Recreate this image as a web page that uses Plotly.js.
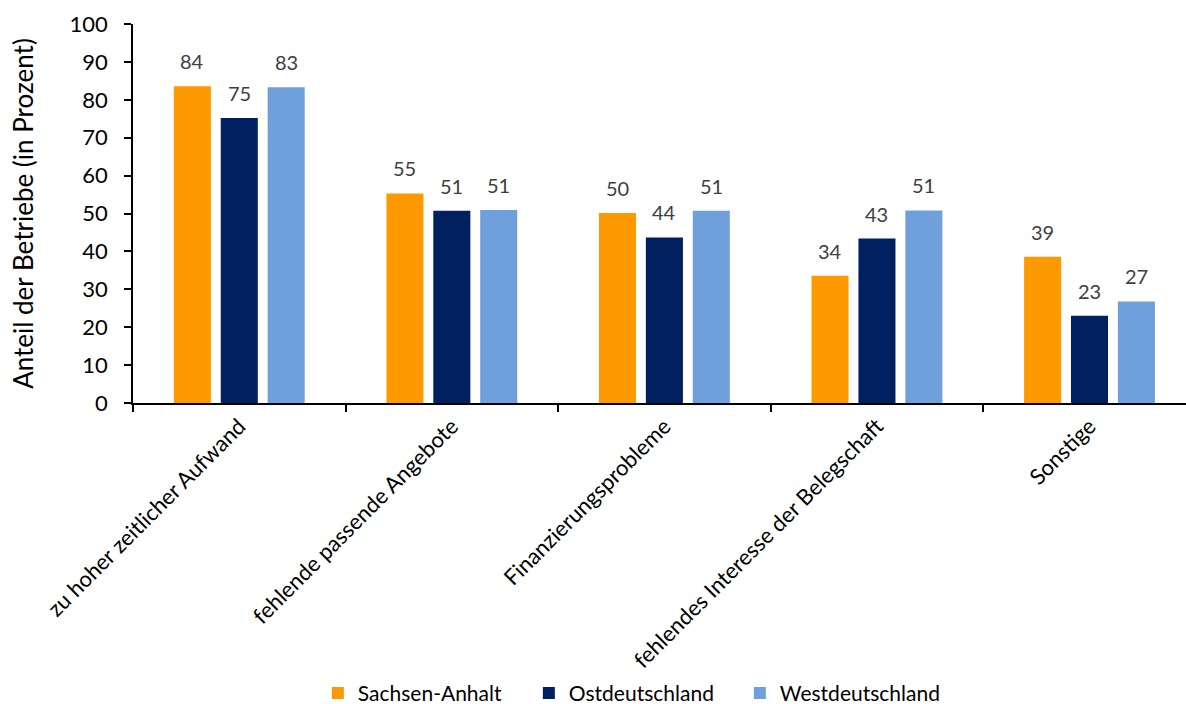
<!DOCTYPE html>
<html>
<head>
<meta charset="utf-8">
<script src="https://cdn.plot.ly/plotly-3.0.1.min.js"></script>
<style>html,body{margin:0;padding:0;background:#fff;}#chart{width:1186px;height:704px;}</style>
</head>
<body>
<div id="chart"></div>
<script>
const categories = ["zu hoher zeitlicher Aufwand", "fehlende passende Angebote", "Finanzierungsprobleme", "fehlendes Interesse der Belegschaft", "Sonstige"];
const seriesNames = ["Sachsen-Anhalt", "Ostdeutschland", "Westdeutschland"];
const sachsenAnhalt = [83.6, 55.3, 50.1, 33.6, 38.6];
const ostdeutschland = [75.2, 50.7, 43.7, 43.4, 23.0];
const westdeutschland = [83.3, 50.9, 50.7, 50.8, 26.8];
const colors = ["#FF9900", "#002060", "#6FA0DC"];

const FONT = "Lato, 'Noto Sans', sans-serif";
const W = 1186, H = 704;
const margin = {l: 133, r: 0, t: 24, b: 301};
const xRange = [-0.5, 4.454];
const bargap = 0.338;

const values = [sachsenAnhalt, ostdeutschland, westdeutschland];
const traces = values.map((v, i) => ({
  type: "bar",
  name: seriesNames[i],
  x: categories,
  y: v,
  marker: {color: colors[i]},
  hoverinfo: "x+y+name"
}));

// data labels placed above each bar, offset by the bar slot width
const pxPerCat = (W - margin.l - margin.r) / (xRange[1] - xRange[0]);
const slotPx = pxPerCat * (1 - bargap) / values.length;
const annotations = [];
values.forEach((v, i) => {
  v.forEach((val, j) => {
    annotations.push({
      x: categories[j], y: val, xref: "x", yref: "y",
      text: String(Math.round(val)),
      showarrow: false,
      xshift: (i - (values.length - 1) / 2) * slotPx,
      yanchor: "middle", yshift: 25,
      font: {family: FONT, size: 20, color: "#404040"}
    });
  });
});

const layout = {
  width: W, height: H,
  margin: margin,
  paper_bgcolor: "#fff", plot_bgcolor: "#fff",
  font: {family: FONT, size: 18, color: "#000"},
  barmode: "group",
  bargap: bargap,
  bargroupgap: 0.21,
  showlegend: true,
  legend: {orientation: "h", xref: "container", yref: "container", x: 0.268, xanchor: "left", y: 0.015, yanchor: "middle",
           font: {family: FONT, size: 21, color: "#000"}, traceorder: "normal", entrywidth: 166},
  annotations: annotations,
  xaxis: {
    type: "category",
    range: xRange,
    autorange: false, automargin: false,
    showline: true, linecolor: "#000", linewidth: 1.5,
    ticks: "outside", tickson: "boundaries", ticklen: 7, tickcolor: "#000", tickwidth: 1.5,
    tickangle: -45,
    tickfont: {family: FONT, size: 22, color: "#000"},
    showgrid: false, zeroline: false
  },
  yaxis: {
    range: [0, 100], autorange: false, automargin: false, dtick: 10,
    showline: true, linecolor: "#000", linewidth: 1.5,
    ticks: "outside", ticklen: 7, tickcolor: "#000", tickwidth: 1.5,
    ticklabelstandoff: 12,
    tickfont: {family: FONT, size: 22, color: "#000"},
    showgrid: false, zeroline: false,
    title: {text: "Anteil der Betriebe (in Prozent)", font: {family: FONT, size: 26, color: "#000"}, standoff: 28}
  }
};

Plotly.newPlot("chart", traces, layout, {displayModeBar: false, responsive: false});
</script>
</body>
</html>
